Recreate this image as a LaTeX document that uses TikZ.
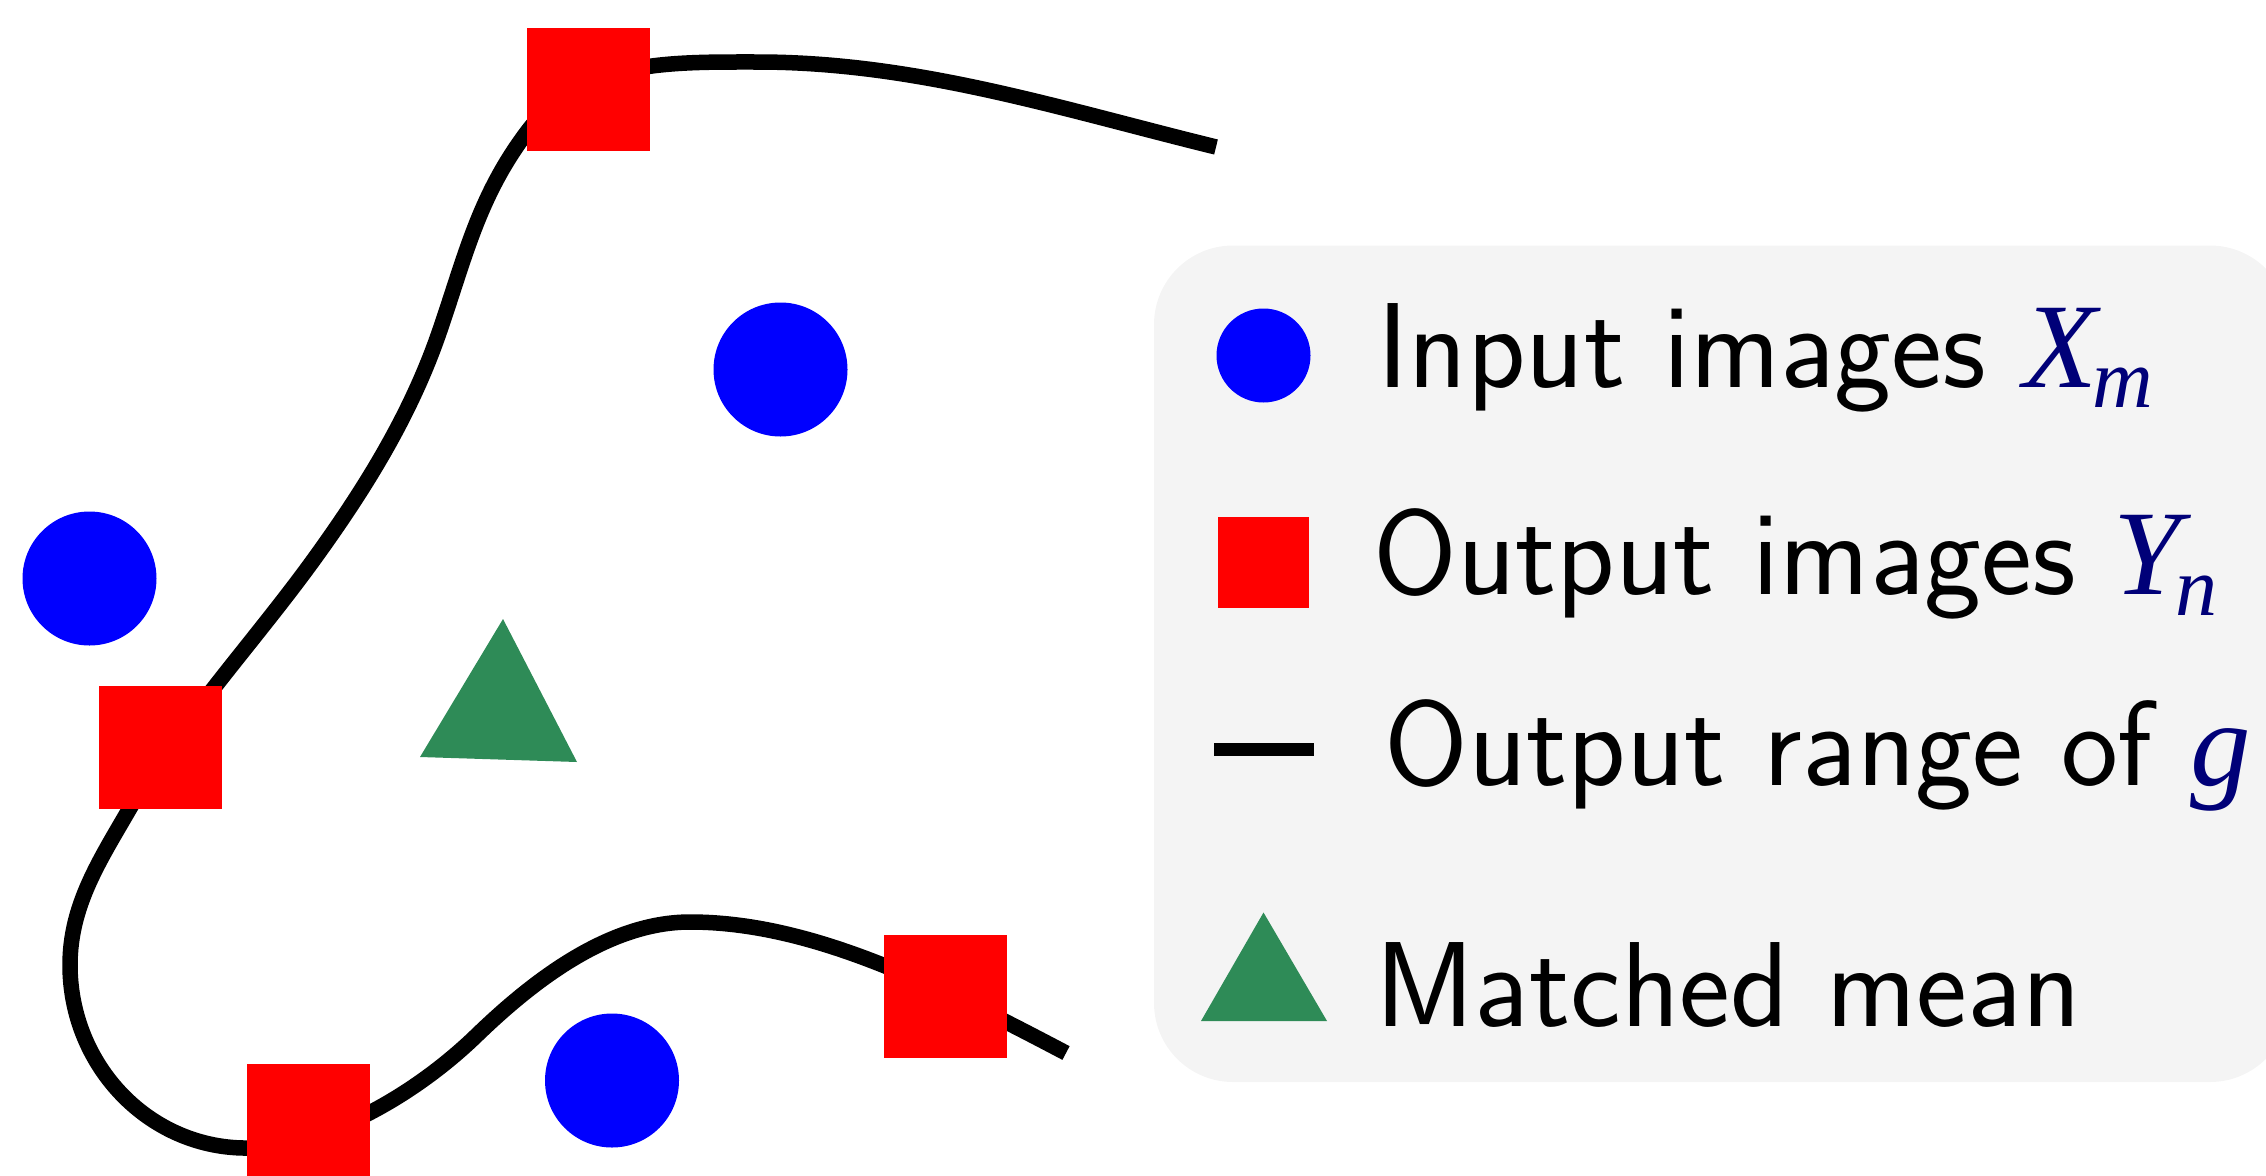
\documentclass[tikz,border=0pt]{standalone}
\usepackage{fontspec}
\newfontfamily\ltimes{Liberation Serif}
\definecolor{mathnavy}{RGB}{0,0,120}
\definecolor{legbg}{RGB}{244,244,244}
\definecolor{tri}{RGB}{46,139,87}
\newcommand{\mvar}[2]{{\color{mathnavy}\ltimes\itshape #1\kern-0.04em\raisebox{-0.17em}{\fontsize{84}{90}\selectfont #2}}}
\tikzset{
  inpt/.style={fill=blue, draw=none},
  outp/.style={fill=red, draw=none, minimum size=123pt, inner sep=0, rectangle},
  rng/.style={line width=15.5pt, line cap=butt, black},
  tri/.style={fill=tri, draw=none},
  legtext/.style={anchor=base west, inner sep=0, font=\sffamily\fontsize{121}{140}\selectfont}
}
\begin{document}
\begin{tikzpicture}[x=1pt,y=-1pt]
\useasboundingbox (0,0) rectangle (2266,1175);
\clip (0,0) rectangle (2266,1175);
% range curve
\coordinate (cs) at (1216,147);
\coordinate (ce) at (1066,1053);
\draw[rng] (cs)
  .. controls (1061,109) and (917,62) .. (757,62)
  .. controls (667,62) and (581,60) .. (527,132)
  .. controls (479,196) and (466,254) .. (440,330)
  .. controls (411,415) and (365,489) .. (312,562)
  .. controls (253,643) and (180,722) .. (130,808)
  .. controls (100,860) and (70,905) .. (70,965)
  .. controls (70,1066) and (150,1150) .. (250,1148)
  .. controls (320,1146.6) and (410,1100) .. (477,1035)
  .. controls (535,979) and (610,922) .. (690,922)
  .. controls (810,922) and (933,983) .. (ce);
% output images
\node[outp] (y1) at (588.5,89) {};
\node[outp] (y2) at (160,747) {};
\node[outp] (y3) at (308.5,1125) {};
\node[outp] (y4) at (945.5,996) {};
% input images
\node[inpt, circle, minimum size=134pt, inner sep=0] (x1) at (780.5,369.5) {};
\node[inpt, circle, minimum size=134pt, inner sep=0] (x2) at (89.5,578.5) {};
\node[inpt, circle, minimum size=134pt, inner sep=0] (x3) at (612,1080.5) {};
% matched mean
\fill[tri] (503,619) -- (420,757) -- (577,762) -- cycle;
% legend
\fill[legbg, rounded corners=79pt] (1154,245.5) rectangle (2289,1082);
\node[inpt, circle, minimum size=94pt, inner sep=0] (lx) at (1263.5,355.5) {};
\node[outp, minimum size=91pt] (ly) at (1263.5,562) {};
\coordinate (la) at (1214,749);
\coordinate (lb) at (1314,749);
\draw[line width=13pt, black] (la) -- (lb);
\fill[tri] (1263.5,912.5) -- (1201,1021) -- (1327,1021) -- cycle;
\node[legtext] (t1) at (1377,387) {Input images \mvar{X}{m}};
\node[legtext] (t2) at (1373,594.5) {Output images \mvar{Y}{n}};
\node[legtext] (t3) at (1384,785) {Output range of {\color{mathnavy}\ltimes\itshape g}};
\node[legtext] (t4) at (1375.5,1026) {Matched mean};
\end{tikzpicture}
\end{document}
